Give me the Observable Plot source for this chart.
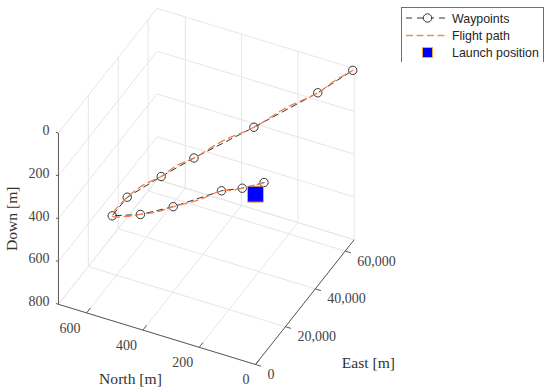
<!DOCTYPE html>
<html>
<head>
<meta charset="utf-8">
<script src="https://cdn.jsdelivr.net/npm/d3@7"></script>
<script src="https://cdn.jsdelivr.net/npm/@observablehq/plot@0.6"></script>
<style>
  html, body { margin: 0; padding: 0; background: #fff; }
  #wrap { position: relative; width: 550px; height: 391px; overflow: hidden; }
  #legend { position: absolute; left: 401px; top: 7px; width: 141px; height: 54px;
            border: 1px solid #6e6e6e; border-bottom: none; background: #fff; }
  #legend svg { position: absolute; left: 0; top: 0; overflow: hidden; }
  #legend text { font-family: "Liberation Sans", Arial, sans-serif; font-size: 12.4px; fill: #262626; }
</style>
</head>
<body>
<div id="wrap">
  <div id="chart"></div>
  <div id="legend">
    <svg width="141" height="54">
      <line x1="4" x2="43" y1="10" y2="10" stroke="#333" stroke-width="1" stroke-dasharray="6,5"/>
      <circle cx="25.5" cy="10" r="4.2" fill="#fff" stroke="#333"/>
      <line x1="4" x2="43" y1="27.5" y2="27.5" stroke="#f28c5f" stroke-width="1.4" stroke-dasharray="7,3.5"/>
      <rect x="20.5" y="39.5" width="10" height="10" fill="#0000ff" stroke="#f4a742"/>
      <text x="50" y="14.5">Waypoints</text>
      <text x="50" y="31.5">Flight path</text>
      <text x="50" y="49">Launch position</text>
    </svg>
  </div>
</div>
<script>
// Axis ticks and limits
const northTicks = [0, 200, 400, 600];
const eastTicks = [0, 20000, 40000, 60000];
const downTicks = [0, 200, 400, 600, 800];
const northMax = 700;
const eastMax = 66000;
const downMax = 800;

// Waypoints
const wpNorth = [0, 59, 132, 302, 417, 514, 484, 395, 314, 183, 59, 0];
const wpEast = [5700, 2265, 2110, 1815, 1530, 939, 5345, 11296, 17978, 33416, 52758, 65045];
const wpDown = [0, 20, 60, 200, 280, 320, 260, 180, 120, 60, 20, 0];

// Flight path
const fpNorth = [0, 30, 59, 95, 132, 215, 302, 360, 417, 465, 514, 484, 440, 395, 355, 314, 249, 183, 121, 59, 30, 0];
const fpEast = [5700, 4000, 2265, 2190, 2110, 1960, 1815, 1670, 1530, 1230, 939, 5345, 8320, 11296, 14640, 17978, 25700, 33416, 43090, 52758, 58900, 65045];
const fpDown = [0, 12, 20, 44, 60, 136, 200, 247, 280, 306, 320, 260, 210, 180, 140, 120, 80, 60, 30, 20, 5, 0];

// Launch position
const launch = [{north: 0, east: 0, down: 4}];

// Fixed view of the 3D box, as an orthographic projection
const view = {x0: 255, y0: 364, xn: -0.2815, xe: 0.001495, yn: -0.086, ye: -0.00189, yd: 0.214};
const px = d => view.x0 + view.xn * d.north + view.xe * d.east;
const py = d => view.y0 + view.yn * d.north + view.ye * d.east + view.yd * (d.down - downMax);
const pt = (north, east, down) => ({north, east, down});
const seg = (a, b) => ({a, b});

const waypoints = wpNorth.map((n, i) => pt(n, wpEast[i], wpDown[i]));
const flight = fpNorth.map((n, i) => pt(n, fpEast[i], fpDown[i]));

const grid = [
  ...northTicks.map(n => seg(pt(n, 0, downMax), pt(n, eastMax, downMax))),
  ...eastTicks.map(e => seg(pt(0, e, downMax), pt(northMax, e, downMax))),
  ...downTicks.map(d => seg(pt(northMax, 0, d), pt(northMax, eastMax, d))),
  ...downTicks.map(d => seg(pt(0, eastMax, d), pt(northMax, eastMax, d))),
  ...eastTicks.map(e => seg(pt(northMax, e, 0), pt(northMax, e, downMax))),
  ...northTicks.map(n => seg(pt(n, eastMax, 0), pt(n, eastMax, downMax))),
  seg(pt(northMax, 0, downMax), pt(northMax, eastMax, downMax)),
  seg(pt(0, eastMax, downMax), pt(northMax, eastMax, downMax))
];
const axes = [
  seg(pt(northMax, 0, downMax), pt(0, 0, downMax)),
  seg(pt(0, 0, downMax), pt(0, eastMax, downMax)),
  seg(pt(northMax, 0, 0), pt(northMax, 0, downMax)),
  ...northTicks.map(n => seg(pt(n, 0, downMax), pt(n, 2500, downMax))),
  ...eastTicks.map(e => seg(pt(0, e, downMax), pt(-20, e, downMax))),
  ...downTicks.map(d => seg(pt(northMax, 0, d), pt(northMax + 9, 0, d)))
];

const links = (data, opts) => Plot.link(data, {
  x1: s => px(s.a), y1: s => py(s.a), x2: s => px(s.b), y2: s => py(s.b), ...opts
});
const serif = "'Liberation Serif','Times New Roman',serif";
const tickText = {fontFamily: serif, fontSize: 14, fill: "#444"};
const labelText = {fontFamily: serif, fontSize: 15.6, fill: "#333"};
const fmt = d3.format(",");

const chart = Plot.plot({
  width: 550, height: 391,
  marginTop: 0, marginRight: 0, marginBottom: 0, marginLeft: 0,
  x: {domain: [0, 550], range: [0, 550], axis: null},
  y: {domain: [0, 391], range: [0, 391], axis: null},
  style: {background: "#fff", overflow: "visible"},
  marks: [
    links(grid, {stroke: "#e6e6e6", strokeWidth: 1}),
    links(axes, {stroke: "#5a5a5a", strokeWidth: 1}),
    Plot.text(northTicks.map(n => pt(n, 0, downMax)), {
      x: px, y: py, text: d => fmt(d.north), textAnchor: "end", dx: -6, dy: 15.5, ...tickText
    }),
    Plot.text(eastTicks.map(e => pt(0, e, downMax)), {
      x: px, y: py, text: d => fmt(d.east), textAnchor: "start", dx: 12, dy: 10, ...tickText
    }),
    Plot.text(downTicks.map(d => pt(northMax, 0, d)), {
      x: px, y: py, text: d => fmt(d.down), textAnchor: "end", dx: -9, dy: -2.5, ...tickText
    }),
    Plot.text([pt(350, 0, downMax)], {x: px, y: py, text: ["North [m]"], dx: -26.5, dy: 45, ...labelText}),
    Plot.text([pt(0, 33000, downMax)], {x: px, y: py, text: ["East [m]"], dx: 63.5, dy: 61, ...labelText}),
    Plot.text([pt(northMax, 0, 400)], {x: px, y: py, text: ["Down [m]"], rotate: -90, dx: -46, ...labelText}),
    Plot.line(waypoints, {x: px, y: py, stroke: "#333", strokeWidth: 1, strokeDasharray: "6,4.5"}),
    Plot.dot(waypoints, {x: px, y: py, r: 4.2, stroke: "#333", strokeWidth: 1, fill: "none"}),
    Plot.line(flight, {x: px, y: py, stroke: "#f0804f", strokeWidth: 1.3, strokeDasharray: "7,4.5", curve: "catmull-rom"}),
    Plot.dot(launch, {x: px, y: py, symbol: "square", r: 9, fill: "#0000ff", stroke: "#f4a742", strokeWidth: 1})
  ]
});
document.getElementById("chart").appendChild(chart);
</script>
</body>
</html>
